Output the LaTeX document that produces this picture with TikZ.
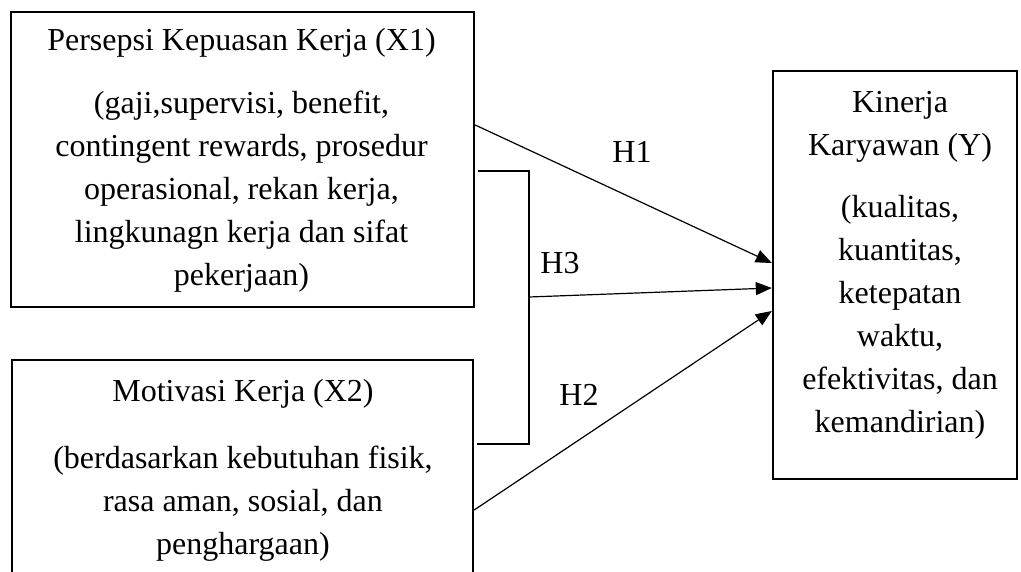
\documentclass[tikz,border=0pt]{standalone}
\usepackage{fontspec}
\setmainfont{Liberation Serif}
\usetikzlibrary{arrows.meta,calc}
\begin{document}
\begin{tikzpicture}[x=1pt,y=-1pt,
  varbox/.style={draw,line width=2.4pt,inner sep=0pt},
  boxtext/.style={align=center,inner sep=0pt,anchor=north,
    font=\fontsize{32}{43}\selectfont},
  hlabel/.style={inner sep=0pt,font=\fontsize{32}{43}\selectfont},
  link/.style={line width=1.2pt,-{Triangle[length=16pt,width=13pt]}},
  bracketline/.style={line width=1.2pt}]
  % page frame; the lower box runs past the bottom edge
  \clip (0,0) rectangle (1021,572);
  \fill[white] (0,0) rectangle (1021,572);

  % variable boxes
  \node[varbox,minimum width=463pt,minimum height=295pt] (box1) at (242.5,159.5) {};
  \node[varbox,minimum width=461pt,minimum height=259pt] (box2) at (242.5,489.5) {};
  \node[varbox,minimum width=244pt,minimum height=408pt] (boxY) at (895,275) {};

  % box contents
  \node[boxtext] (t1) at (241.5,28) {Persepsi Kepuasan Kerja (X1)\\[20pt]
    (gaji,supervisi, benefit,\\ contingent rewards, prosedur\\
    operasional, rekan kerja,\\ lingkunagn kerja dan sifat\\ pekerjaan)};
  \node[boxtext] (t2) at (243,379) {Motivasi Kerja (X2)\\[24pt]
    (berdasarkan kebutuhan fisik,\\ rasa aman, sosial, dan\\ penghargaan)};
  \node[boxtext] (tY) at (900,91) {Kinerja\\ Karyawan (Y)\\[19pt]
    (kualitas,\\ kuantitas,\\ ketepatan\\ waktu,\\ efektivitas, dan\\ kemandirian)};

  % connector end points
  \coordinate (h1s) at ($(box1.east)+(0,-34.5)$);
  \coordinate (h2s) at ($(box2.east)+(0,20.5)$);
  \coordinate (bt) at ($(box1.east)+(3,11.5)$);
  \coordinate (bb) at ($(box2.east)+(3,-45.5)$);
  \coordinate (btr) at (529,171);
  \coordinate (bbr) at (529,444);
  \coordinate (h3s) at (529,297);

  % joint-effect bracket
  \draw[bracketline] (bt) -- (btr) -- (bbr) -- (bb);

  % hypotheses
  \draw[link] (h1s) -- ($(boxY.west)+(0,-12)$);
  \draw[link] (h3s) -- ($(boxY.west)+(0,13)$);
  \draw[link] (h2s) -- ($(boxY.west)+(0,36)$);

  \node[hlabel] (H1) at (632,152) {H1};
  \node[hlabel] (H3) at (560,263) {H3};
  \node[hlabel] (H2) at (579,395) {H2};
\end{tikzpicture}
\end{document}
